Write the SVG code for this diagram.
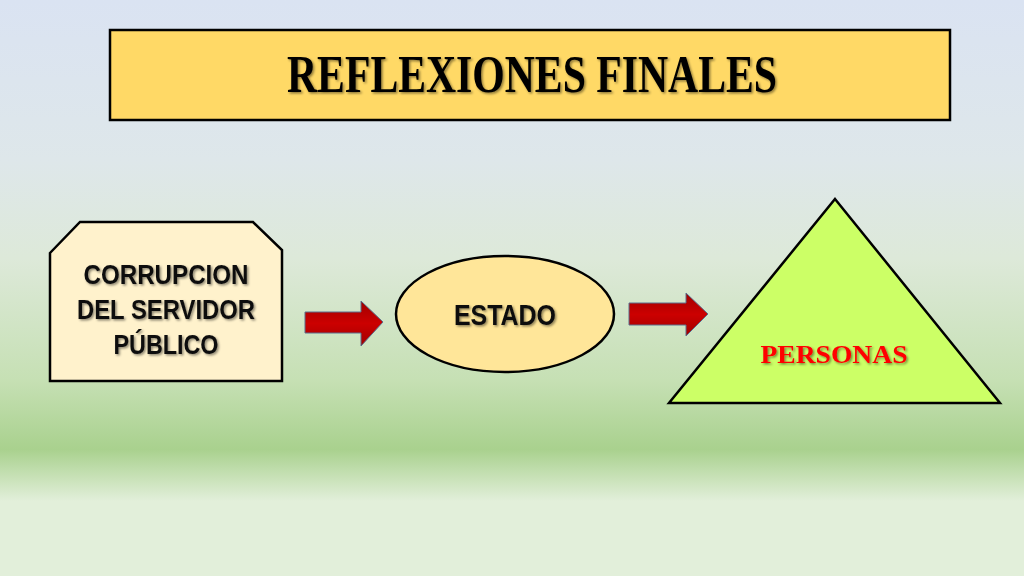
<svg xmlns="http://www.w3.org/2000/svg" width="1024" height="576" viewBox="0 0 1024 576">
<defs>
<linearGradient id="bg" x1="0" y1="0" x2="0" y2="1">
<stop offset="0" stop-color="#dae3f2"/>
<stop offset="0.28" stop-color="#dee7ea"/>
<stop offset="0.45" stop-color="#dde9d9"/>
<stop offset="0.66" stop-color="#c6e0b4"/>
<stop offset="0.78" stop-color="#a9d18e"/>
<stop offset="0.87" stop-color="#e2efda"/>
<stop offset="1" stop-color="#e2efda"/>
</linearGradient>
<linearGradient id="arrowFill" x1="0" y1="0" x2="0" y2="1">
<stop offset="0" stop-color="#a00000"/>
<stop offset="0.5" stop-color="#cc0000"/>
<stop offset="1" stop-color="#a00000"/>
</linearGradient>
<filter id="shadow" x="-10%" y="-20%" width="120%" height="140%">
<feDropShadow dx="1.5" dy="1.5" stdDeviation="1" flood-color="#000" flood-opacity="0.45"/>
</filter>
</defs>
<style>
.box{stroke:#000;stroke-width:2.5}
.lbl{font-family:"Liberation Sans",Arial,sans-serif;font-weight:bold;fill:#111;text-anchor:middle}
.deco{font-family:"Liberation Serif","DejaVu Serif",serif;font-weight:bold;text-anchor:middle}
.arrow{fill:url(#arrowFill);stroke:#5b6f8c;stroke-width:1}
</style>
<rect x="0" y="0" width="1024" height="576" fill="url(#bg)"/>

<g id="title">
<rect class="box" x="110" y="30" width="840" height="90" fill="#ffd966"/>
<text class="deco" x="532" y="92" font-size="52" fill="#000" textLength="490" lengthAdjust="spacingAndGlyphs" filter="url(#shadow)">REFLEXIONES FINALES</text>
</g>

<g id="corrupcion">
<polygon class="box" points="50,253 80,222 253,222 282,250 282,381 50,381" fill="#fff2cc"/>
<g filter="url(#shadow)">
<text class="lbl" x="166" y="284" font-size="27" textLength="165" lengthAdjust="spacingAndGlyphs">CORRUPCION</text>
<text class="lbl" x="166" y="319" font-size="27" textLength="178" lengthAdjust="spacingAndGlyphs">DEL SERVIDOR</text>
<text class="lbl" x="166" y="354" font-size="27" textLength="105" lengthAdjust="spacingAndGlyphs">PÚBLICO</text>
</g>
</g>

<g id="estado">
<ellipse class="box" cx="505" cy="314" rx="109" ry="58" fill="#ffe699"/>
<text class="lbl" x="505" y="325" font-size="29" textLength="102" lengthAdjust="spacingAndGlyphs" filter="url(#shadow)">ESTADO</text>
</g>

<g id="personas">
<polygon class="box" points="835,199 1000,403 669,403" fill="#ccff66"/>
<text class="deco" x="834" y="363" font-size="26" fill="#ff0000" textLength="147" lengthAdjust="spacingAndGlyphs" filter="url(#shadow)">PERSONAS</text>
</g>

<g id="connectors">
<polygon class="arrow" points="305,312 361,312 361,301 383,322 361,346 361,333 305,333"/>
<polygon class="arrow" points="629,303 686,303 686,293 708,314 686,336 686,325 629,325"/>
</g>
</svg>
